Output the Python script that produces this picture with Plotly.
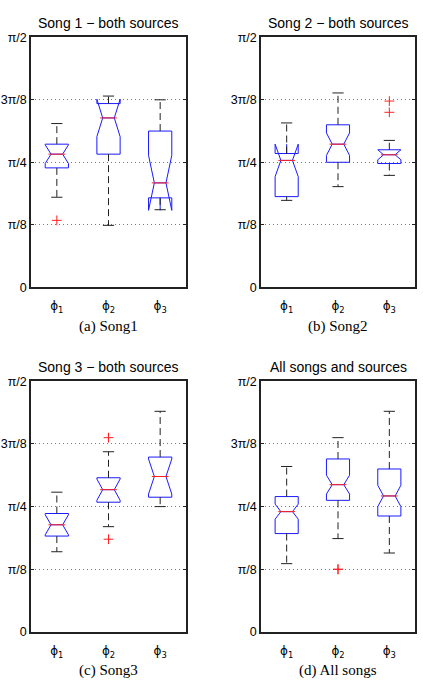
import numpy as np
import plotly.graph_objects as go

# Values read in units of pi/8 (converted to radians below)
panel_titles = ["Song 1 \u2212 both sources", "Song 2 \u2212 both sources",
                "Song 3 \u2212 both sources", "All songs and sources"]
captions = ["(a) Song1", "(b) Song2", "(c) Song3", "(d) All songs"]
categories = ["\u03d5<sub>1</sub>", "\u03d5<sub>2</sub>", "\u03d5<sub>3</sub>"]

lower_whisker = [[1.44, 0.99, 1.24], [1.39, 1.61, 1.79], [1.28, 1.68, 2.00], [1.09, 1.49, 1.26]]
q1 =            [[1.91, 2.13, 1.43], [1.45, 2.00, 1.98], [1.53, 2.07, 2.15], [1.57, 2.10, 1.85]]
median =        [[2.13, 2.71, 1.67], [2.03, 2.29, 2.12], [1.71, 2.27, 2.48], [1.92, 2.35, 2.17]]
q3 =            [[2.29, 2.94, 2.50], [2.14, 2.60, 2.20], [1.89, 2.46, 2.79], [2.16, 2.76, 2.60]]
upper_whisker = [[2.62, 3.06, 3.00], [2.63, 3.11, 2.35], [2.23, 2.875, 3.52], [2.64, 3.10, 3.52]]
notch_span =    [[0.15, 0.30, 0.44], [0.26, 0.18, 0.08], [0.16, 0.17, 0.28], [0.12, 0.15, 0.17]]
outliers =      [[[1.07], [], []], [[], [], [2.98, 2.80]], [[], [3.10, 1.48], []], [[], [1.00, 1.00], []]]

U = np.pi / 8
tick_vals = [0, U, 2 * U, 3 * U, 4 * U]
tick_text = ["0", "\u03c0/8", "\u03c0/4", "3\u03c0/8", "\u03c0/2"]

W, H = 423, 687
xdom_px = [(31, 186), (261, 415)]
ydom_px = [(31, 286), (382, 638)]
title_y_px = [16, 367]
caption_y_px = [326, 677]

fig = go.Figure()
BLUE = "#1a1aff"
RED = "#ff2020"
font_sans = "Liberation Sans, Arial, sans-serif"

for p in range(4):
    r, c = divmod(p, 2)
    xa = "x" if p == 0 else f"x{p+1}"
    ya = "y" if p == 0 else f"y{p+1}"
    xs = [1, 2, 3]
    for i in range(3):
        fig.add_trace(go.Box(
            x=[xs[i]], q1=[q1[p][i] * U], median=[median[p][i] * U], q3=[q3[p][i] * U],
            lowerfence=[q1[p][i] * U], upperfence=[q3[p][i] * U],
            notched=True, notchspan=[notch_span[p][i] * U], notchwidth=0.25,
            width=0.45, whiskerwidth=0, boxpoints=False,
            line=dict(color=BLUE, width=1), fillcolor="rgba(255,255,255,0)",
            xaxis=xa, yaxis=ya, showlegend=False, hoverinfo="skip"))
    # whiskers
    wx, wy = [], []
    for i in range(3):
        wx += [xs[i], xs[i], None, xs[i], xs[i], None]
        wy += [q3[p][i] * U, upper_whisker[p][i] * U, None, q1[p][i] * U, lower_whisker[p][i] * U, None]
    fig.add_trace(go.Scatter(x=wx, y=wy, mode="lines", line=dict(color="#222222", width=1, dash="7px,4px"),
                             xaxis=xa, yaxis=ya, showlegend=False, hoverinfo="skip"))
    # caps
    cx, cy = [], []
    for i in range(3):
        cx += [xs[i], xs[i]]
        cy += [upper_whisker[p][i] * U, lower_whisker[p][i] * U]
    fig.add_trace(go.Scatter(x=cx, y=cy, mode="markers",
                             marker=dict(symbol="line-ew", size=8, color="#222222", line=dict(color="#222222", width=1)),
                             xaxis=xa, yaxis=ya, showlegend=False, hoverinfo="skip"))
    # medians
    fig.add_trace(go.Scatter(x=xs, y=[m * U for m in median[p]], mode="markers",
                             marker=dict(symbol="line-ew", size=12, color=RED, line=dict(color=RED, width=1)),
                             xaxis=xa, yaxis=ya, showlegend=False, hoverinfo="skip"))
    # outliers
    ox, oy = [], []
    for i in range(3):
        for v in outliers[p][i]:
            ox.append(xs[i]); oy.append(v * U)
    fig.add_trace(go.Scatter(x=ox, y=oy, mode="markers",
                             marker=dict(symbol="cross-thin", size=7, color=RED, line=dict(color=RED, width=1)),
                             xaxis=xa, yaxis=ya, showlegend=False, hoverinfo="skip"))

    x0, x1 = xdom_px[c]
    y0, y1 = ydom_px[r]
    xkey = "xaxis" if p == 0 else f"xaxis{p+1}"
    ykey = "yaxis" if p == 0 else f"yaxis{p+1}"
    fig.update_layout({
        xkey: dict(domain=[x0 / W, x1 / W], range=[0.5, 3.5], anchor=ya,
                   tickvals=xs, ticktext=categories, showgrid=False, zeroline=False,
                   showline=True, mirror=True, linecolor="#222222", linewidth=1.5,
                   ticks="", ticklabelstandoff=7,
                   tickfont=dict(family="DejaVu Sans", size=12, color="black")),
        ykey: dict(domain=[1 - y1 / H, 1 - y0 / H], range=[0, np.pi / 2], anchor=xa,
                   tickvals=tick_vals, ticktext=tick_text, showgrid=True,
                   gridcolor="#777777", griddash="1px,3px", gridwidth=1, zeroline=False,
                   showline=True, mirror="ticks", linecolor="#222222", linewidth=1.5,
                   ticks="inside", ticklen=3, tickcolor="#222222",
                   tickfont=dict(family=font_sans, size=12.5, color="black")),
    })
    xc = (x0 + x1) / 2 / W
    fig.add_annotation(text=panel_titles[p], x=xc, y=1 - title_y_px[r] / H, xref="paper", yref="paper",
                       showarrow=False, font=dict(family=font_sans, size=14, color="black"),
                       xanchor="center", yanchor="middle")
    fig.add_annotation(text=captions[p], x=xc, y=1 - caption_y_px[r] / H, xref="paper", yref="paper",
                       showarrow=False, font=dict(family="Liberation Serif, Times New Roman, serif", size=15, color="black"),
                       xanchor="center", yanchor="middle")

fig.update_layout(width=W, height=H, margin=dict(l=0, r=0, t=0, b=0),
                  paper_bgcolor="white", plot_bgcolor="white", showlegend=False)
fig.write_html("out.html")
